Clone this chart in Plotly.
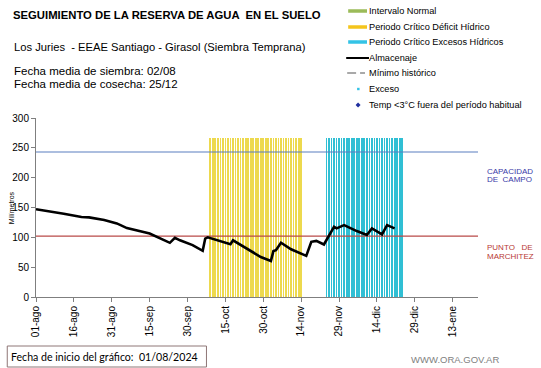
import pandas as pd
import plotly.graph_objects as go

# ---------------- data ----------------
alm_dates = ["2024-08-01", "2024-08-05", "2024-08-12", "2024-08-19", "2024-08-22", "2024-08-28",
             "2024-09-02", "2024-09-06", "2024-09-15", "2024-09-23", "2024-09-25", "2024-09-27",
             "2024-10-02", "2024-10-06", "2024-10-07", "2024-10-08", "2024-10-12", "2024-10-15",
             "2024-10-17", "2024-10-18", "2024-10-20", "2024-10-29", "2024-11-02", "2024-11-03",
             "2024-11-04", "2024-11-06", "2024-11-10", "2024-11-16", "2024-11-18", "2024-11-20",
             "2024-11-23", "2024-11-25", "2024-11-27", "2024-11-28", "2024-12-01", "2024-12-06",
             "2024-12-10", "2024-12-12", "2024-12-16", "2024-12-18", "2024-12-21"]
alm_values = [147, 144.6, 139.6, 134, 133.5, 129,
              123.4, 115.5, 106.5, 90.8, 99, 95,
              87, 77.5, 98, 100, 95, 90,
              88.6, 95, 90, 67, 60.5, 77,
              78.5, 91, 80, 69, 92.5, 94,
              88, 102, 117.7, 115, 120.5, 110.5,
              104, 115, 105, 120.5, 115]

deficit_start, deficit_end = "2024-10-09", "2024-11-14"
exceso_start, exceso_end = "2024-11-24", "2024-12-24"
period_bar_height = 267

capacidad_campo = 243
punto_marchitez = 102

tick_dates = ["2024-08-01", "2024-08-16", "2024-08-31", "2024-09-15", "2024-09-30", "2024-10-15",
              "2024-10-30", "2024-11-14", "2024-11-29", "2024-12-14", "2024-12-29", "2025-01-13"]
tick_labels = ["01-ago", "16-ago", "31-ago", "15-sep", "30-sep", "15-oct",
               "30-oct", "14-nov", "29-nov", "14-dic", "29-dic", "13-ene"]
y_ticks = [0, 50, 100, 150, 200, 250, 300]
x_range = ["2024-08-01", "2025-01-23"]
y_range = [0, 300]

# ---------------- figure ----------------
FONT = "Liberation Sans, Arial, sans-serif"
DAY_MS = 86400000

fig = go.Figure()

deficit_days = pd.date_range(deficit_start, deficit_end, freq="D")
exceso_days = pd.date_range(exceso_start, exceso_end, freq="D")

fig.add_trace(go.Bar(x=deficit_days, y=[period_bar_height] * len(deficit_days),
                     width=0.3 * DAY_MS, marker=dict(color="#EDD94E", line_width=0),
                     showlegend=False, hoverinfo="skip"))
fig.add_trace(go.Bar(x=exceso_days, y=[period_bar_height] * len(exceso_days),
                     width=0.3 * DAY_MS, marker=dict(color="#30BFD4", line_width=0),
                     showlegend=False, hoverinfo="skip"))

# reference lines
fig.add_trace(go.Scatter(x=x_range, y=[capacidad_campo] * 2, mode="lines",
                         line=dict(color="#5B7FBF", width=1.2), showlegend=False, hoverinfo="skip"))
fig.add_trace(go.Scatter(x=x_range, y=[punto_marchitez] * 2, mode="lines",
                         line=dict(color="#B94A48", width=1.2), showlegend=False, hoverinfo="skip"))

# almacenaje
fig.add_trace(go.Scatter(x=alm_dates, y=alm_values, mode="lines",
                         line=dict(color="black", width=2.6), showlegend=False))

L, R, T, B = 32, 63, 118, 71
W, H = 541, 368
pw, ph = W - L - R, H - T - B

def px(x):
    return (x - L) / pw

def py(y):
    return (H - B - y) / ph

annotations = []
shapes = []

def text(x, y, s, size, color="black", xanchor="left", bold=False, family=FONT, angle=0):
    annotations.append(dict(x=px(x), y=py(y), xref="paper", yref="paper", text=("<b>%s</b>" % s) if bold else s,
                            showarrow=False, xanchor=xanchor, yanchor="middle", textangle=angle,
                            font=dict(size=size, color=color, family=family)))

# header texts
text(7, 15, "SEGUIMIENTO DE LA RESERVA DE AGUA  EN EL SUELO", 11.3, bold=True)
text(8, 47, "Los Juries  - EEAE Santiago - Girasol (Siembra Temprana)", 11.2)
text(8, 71.5, "Fecha media de siembra: 02/08", 11.5)
text(8, 83.5, "Fecha media de cosecha: 25/12", 11.5)

# legend
leg_y = [11, 27, 42, 58, 73, 89, 105]
leg_txt = ["Intervalo Normal", "Periodo Crítico Déficit Hídrico", "Periodo Crítico Excesos Hídricos",
           "Almacenaje", "Mínimo histórico", "Exceso", "Temp <3°C fuera del período habitual"]
for yy, s in zip(leg_y, leg_txt):
    text(366, yy, s, 9.2)

def hline(x0, x1, y, color, width, dash="solid"):
    shapes.append(dict(type="line", xref="paper", yref="paper", x0=px(x0), x1=px(x1), y0=py(y), y1=py(y),
                       line=dict(color=color, width=width, dash=dash)))

hline(347, 366, leg_y[0], "#9BBB59", 3.5)
hline(347, 366, leg_y[1], "#F4C51C", 3.5)
hline(347, 366, leg_y[2], "#33C3E6", 3.5)
hline(345, 368, leg_y[3], "black", 2)
hline(346, 355, leg_y[4], "#8C8C8C", 1.5)
hline(359, 364, leg_y[4], "#8C8C8C", 1.5)
shapes.append(dict(type="rect", xref="paper", yref="paper", x0=px(356), x1=px(358.5),
                   y0=py(leg_y[5] + 1.2), y1=py(leg_y[5] - 1.2), fillcolor="#33C3E6", line_width=0))
shapes.append(dict(type="path", xref="paper", yref="paper",
                   path="M %f %f L %f %f L %f %f L %f %f Z" % (px(357), py(leg_y[6] - 2.5), px(359.5), py(leg_y[6]),
                                                           px(357), py(leg_y[6] + 2.5), px(354.5), py(leg_y[6])),
                   fillcolor="#1F2F9F", line_width=0))

# right labels
text(485, 171, "CAPACIDAD", 8, color="#3A3AA8")
text(485, 179.5, "DE  CAMPO", 8, color="#3A3AA8")
text(485, 247, "PUNTO   DE", 8, color="#B83A36")
text(485, 256, "MARCHITEZ", 8, color="#B83A36")

# y-axis title
text(7, 208, "Milímetros", 7, angle=-90, xanchor="center")

# footer
shapes.append(dict(type="rect", xref="paper", yref="paper", x0=px(3), x1=px(204), y0=py(346), y1=py(367),
                   line=dict(color="#8E7676", width=1), fillcolor="white"))
text(5, 356.5, "Fecha de inicio del gráfico:  01/08/2024", 10.6, family="Lato, Noto Sans, sans-serif")
text(408, 359, "WWW.ORA.GOV.AR", 9.5, color="#7F7F7F")

fig.update_layout(
    width=W, height=H,
    margin=dict(l=L, r=R, t=T, b=B, pad=0),
    paper_bgcolor="white", plot_bgcolor="white",
    barmode="overlay", bargap=0,
    showlegend=False,
    font=dict(family=FONT, color="black"),
    annotations=annotations, shapes=shapes,
    xaxis=dict(type="date", range=x_range, tickmode="array", tickvals=tick_dates, ticktext=tick_labels,
               tickangle=-90, tickfont=dict(size=10), showgrid=False, zeroline=False,
               showline=True, linecolor="#7F7F7F", linewidth=1, ticks="outside", ticklen=4,
               tickcolor="#7F7F7F"),
    yaxis=dict(range=y_range, tickmode="array", tickvals=y_ticks, tickfont=dict(size=10),
               showgrid=False, zeroline=False, showline=True, linecolor="#7F7F7F", linewidth=1,
               ticks="outside", ticklen=4, tickcolor="#7F7F7F"),
)

fig.write_html("out.html", config={"displayModeBar": False},
               post_script="document.body.style.margin='0';document.body.style.overflow='hidden';")
